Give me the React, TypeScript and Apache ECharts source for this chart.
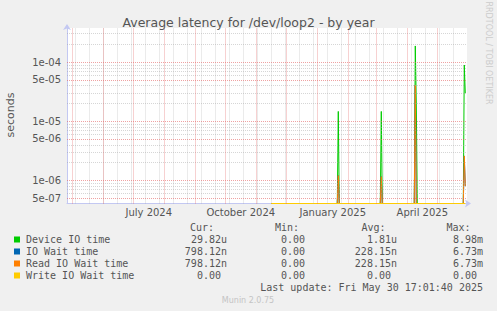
import React, { useEffect, useRef } from 'react';
import * as echarts from 'echarts';

// ---------- texts ----------
const TITLE = 'Average latency for /dev/loop2 - by year';
const SIDE_TEXT = 'RRDTOOL / TOBI OETIKER';
const Y_AXIS_NAME = 'seconds';
const LAST_UPDATE = 'Last update: Fri May 30 17:01:40 2025';
const FOOTER = 'Munin 2.0.75';

// ---------- axes ----------
const X_START = '2024-04-25T17:01:40';
const X_END = '2025-05-30T17:01:40';
const Y_MIN = 4.05e-7;
const Y_MAX = 3.76e-4;

const Y_MAJOR_TICKS = [5e-7, 1e-6, 5e-6, 1e-5, 5e-5, 1e-4];
const Y_MAJOR_LABELS = ['5e-07', '1e-06', '5e-06', '1e-05', '5e-05', '1e-04'];
const Y_MINOR_TICKS = [
  6e-7, 7e-7, 8e-7, 9e-7, 2e-6, 3e-6, 4e-6, 6e-6, 7e-6, 8e-6, 9e-6,
  2e-5, 3e-5, 4e-5, 6e-5, 7e-5, 8e-5, 9e-5, 2e-4, 3e-4,
];

const X_MONTH_LINES = [
  '2024-05-01', '2024-06-01', '2024-07-01', '2024-08-01', '2024-09-01', '2024-10-01',
  '2024-11-01', '2024-12-01', '2025-01-01', '2025-02-01', '2025-03-01', '2025-04-01', '2025-05-01',
];
const X_MINOR_LINES = [
  '2024-05-04', '2024-05-18', '2024-06-01', '2024-06-15', '2024-06-29', '2024-07-13',
  '2024-07-27', '2024-08-10', '2024-08-24', '2024-09-07', '2024-09-21', '2024-10-05',
  '2024-10-19', '2024-11-02', '2024-11-16', '2024-11-30', '2024-12-14', '2024-12-28',
  '2025-01-11', '2025-01-25', '2025-02-08', '2025-02-22', '2025-03-08', '2025-03-22',
  '2025-04-05', '2025-04-19', '2025-05-03', '2025-05-17',
];
const X_LABEL_DATES = ['2024-07-16T12:00:00', '2024-10-16T12:00:00', '2025-01-16T12:00:00', '2025-04-16T00:00:00'];
const X_LABELS = ['July 2024', 'October 2024', 'January 2025', 'April 2025'];

// ---------- series ----------
const SERIES_NAMES = ['Device IO time', 'IO Wait time', 'Read IO Wait time', 'Write IO Wait time'];
const SERIES_COLORS = ['#00cc00', '#0066b3', '#ff8000', '#ffcc00'];

const deviceIO: [string, number][] = [
  ['2024-11-16', 0],
  ['2025-01-21', 0], ['2025-01-22', 1.46e-5], ['2025-01-23', 0],
  ['2025-03-05', 0], ['2025-03-06', 1.46e-5], ['2025-03-07', 0],
  ['2025-04-08', 0], ['2025-04-09', 1.87e-4], ['2025-04-10', 2.0e-5], ['2025-04-11', 0],
  ['2025-05-27', 0], ['2025-05-28', 8.9e-5], ['2025-05-29', 2.982e-5],
];
const ioWait: [string, number][] = [
  ['2024-11-16', 0],
  ['2025-01-21', 0], ['2025-01-22', 1.2e-6], ['2025-01-23', 0],
  ['2025-03-05', 0], ['2025-03-06', 1.15e-6], ['2025-03-07', 0],
  ['2025-04-08', 0], ['2025-04-09', 4.07e-5], ['2025-04-10', 0],
  ['2025-05-27', 0], ['2025-05-28', 2.58e-6], ['2025-05-29', 7.9812e-7],
];
const readIOWait: [string, number][] = [
  ['2024-11-16', 0],
  ['2025-01-21', 0], ['2025-01-22', 1.2e-6], ['2025-01-23', 0],
  ['2025-03-05', 0], ['2025-03-06', 1.15e-6], ['2025-03-07', 0],
  ['2025-04-08', 0], ['2025-04-09', 4.07e-5], ['2025-04-10', 0],
  ['2025-05-27', 0], ['2025-05-28', 2.58e-6], ['2025-05-29', 7.9812e-7],
];
const writeIOWait: [string, number][] = [
  ['2024-11-16', 0],
  ['2025-05-29', 0],
];

// ---------- legend values ----------
const CUR_VALUES = ['29.82u', '798.12n', '798.12n', '0.00'];
const MIN_VALUES = ['0.00', '0.00', '0.00', '0.00'];
const AVG_VALUES = ['1.81u', '228.15n', '228.15n', '0.00'];
const MAX_VALUES = ['8.98m', '6.73m', '6.73m', '0.00'];
const COLUMN_HEADERS = ['Cur:', 'Min:', 'Avg:', 'Max:'];

const TEXT_COLOR = '#555555';
const MONO = 'DejaVu Sans Mono';
const SANS = 'DejaVu Sans';

function txt(x: number, y: number, text: string, align: string, extra: any = {}) {
  return {
    type: 'text',
    x,
    y,
    silent: true,
    ...extra.el,
    style: {
      text,
      fontFamily: MONO,
      fontSize: 10,
      fill: TEXT_COLOR,
      align,
      verticalAlign: 'middle',
      ...extra.style,
    },
  };
}

function buildOption() {
  const toT = (d: string) => new Date(d).getTime();
  // y axis is a linear axis over log10(seconds): the chart's scale is logarithmic
  const lg = (v: number) => Math.log10(v);
  const toPoints = (arr: [string, number][]) => arr.map(([d, v]) => [toT(d), lg(v === 0 ? Y_MIN : v)]);
  const seriesData = [deviceIO, ioWait, readIOWait, writeIOWait];
  const labelTimes = X_LABEL_DATES.map(toT);

  const majorStyle = { color: 'rgba(228, 100, 100, 0.6)', width: 1, type: [1, 1] as number[] };
  const minorStyle = { color: 'rgba(165, 165, 165, 0.45)', width: 1, type: [1, 1] as number[] };

  const gridLines: any[] = [];
  X_MINOR_LINES.forEach((d) => gridLines.push({ xAxis: toT(d), lineStyle: minorStyle, label: { show: false } }));
  Y_MINOR_TICKS.forEach((v) => gridLines.push({ yAxis: lg(v), lineStyle: minorStyle, label: { show: false } }));
  X_MONTH_LINES.forEach((d) => gridLines.push({ xAxis: toT(d), lineStyle: majorStyle, label: { show: false } }));
  Y_MAJOR_TICKS.forEach((v, i) =>
    gridLines.push({
      yAxis: lg(v),
      lineStyle: majorStyle,
      label: {
        show: true,
        position: 'start',
        distance: 6,
        formatter: Y_MAJOR_LABELS[i],
        color: TEXT_COLOR,
        fontSize: 10,
        fontFamily: SANS,
      },
    })
  );

  const g: any[] = [];
  const headerX = [190, 275, 361.5, 446.5];
  COLUMN_HEADERS.forEach((h, i) => g.push(txt(headerX[i], 227, h, 'left')));
  const rowY = [239.5, 251.5, 263.5, 275.5];
  const colRight = [227, 311, 397, 483];
  const cols = [CUR_VALUES, MIN_VALUES, AVG_VALUES, MAX_VALUES];
  SERIES_NAMES.forEach((name, r) => {
    g.push({
      type: 'rect',
      silent: true,
      shape: { x: 14, y: rowY[r] - 3, width: 6, height: 6 },
      style: { fill: SERIES_COLORS[r] },
    });
    g.push(txt(26, rowY[r], name, 'left'));
    cols.forEach((col, c) => {
      const s = col[r];
      const hasUnit = /[a-zA-Z]$/.test(s);
      g.push(txt(colRight[c] - (hasUnit ? 0 : 6), rowY[r], s, 'right'));
    });
  });
  g.push(txt(483, 287.7, LAST_UPDATE, 'right'));
  g.push(txt(248, 300.5, FOOTER, 'center', { style: { fontFamily: SANS, fontSize: 8, fill: '#c4c4c4' } }));
  g.push(txt(10, 115, Y_AXIS_NAME, 'center', { el: { rotation: Math.PI / 2 }, style: { fontFamily: SANS, fontSize: 11 } }));
  g.push(txt(488.5, 53, SIDE_TEXT, 'center', { el: { rotation: -Math.PI / 2 }, style: { fontFamily: SANS, fontSize: 8, fill: '#cccccc' } }));

  return {
    animation: false,
    backgroundColor: '#f0f0f0',
    title: {
      text: TITLE,
      left: 'center',
      top: 11,
      textStyle: { fontFamily: SANS, fontSize: 12.5, fontWeight: 'normal', color: TEXT_COLOR },
    },
    grid: {
      left: 67,
      top: 28,
      width: 400,
      height: 175.5,
      show: true,
      backgroundColor: '#ffffff',
      borderWidth: 0,
      containLabel: false,
    },
    xAxis: {
      type: 'value',
      min: toT(X_START),
      max: toT(X_END),
      axisLine: {
        show: true,
        lineStyle: { color: '#c3c8f2', width: 1 },
        symbol: ['none', 'arrow'],
        symbolSize: [6, 6],
        symbolOffset: [0, 4],
      },
      axisTick: { show: false },
      splitLine: { show: false },
      axisLabel: {
        customValues: labelTimes,
        formatter: (v: number) => {
          const i = labelTimes.indexOf(v);
          return i >= 0 ? X_LABELS[i] : '';
        },
        color: TEXT_COLOR,
        fontFamily: SANS,
        fontSize: 10,
        margin: 4,
        hideOverlap: false,
      },
    },
    yAxis: {
      type: 'value',
      min: lg(Y_MIN),
      max: lg(Y_MAX),
      axisLine: {
        show: true,
        lineStyle: { color: '#c3c8f2', width: 1 },
        symbol: ['none', 'arrow'],
        symbolSize: [6, 6],
        symbolOffset: [0, 4],
      },
      axisTick: { show: false },
      axisLabel: { show: false },
      splitLine: { show: false },
    },
    graphic: g,
    series: [
      {
        name: 'grid',
        type: 'line',
        z: 1,
        data: [[toT(X_START), lg(Y_MAX)]],
        showSymbol: false,
        lineStyle: { opacity: 0 },
        silent: true,
        markLine: {
          silent: true,
          symbol: ['none', 'none'],
          animation: false,
          data: gridLines,
        },
      },
      ...SERIES_NAMES.map((name, i) => ({
        name,
        type: 'line',
        z: 3,
        data: toPoints(seriesData[i]),
        showSymbol: false,
        clip: false,
        lineStyle: { color: SERIES_COLORS[i], width: 1 },
        itemStyle: { color: SERIES_COLORS[i] },
      })),
    ],
  };
}

export default function App() {
  const ref = useRef<HTMLDivElement>(null);
  useEffect(() => {
    if (!ref.current) return;
    const chart = echarts.init(ref.current, null, { renderer: 'svg' });
    chart.setOption(buildOption() as any);
    return () => chart.dispose();
  }, []);
  return (
    <div
      ref={ref}
      style={{ position: 'fixed', left: 0, top: 0, width: 497, height: 311, background: '#f0f0f0' }}
    />
  );
}
